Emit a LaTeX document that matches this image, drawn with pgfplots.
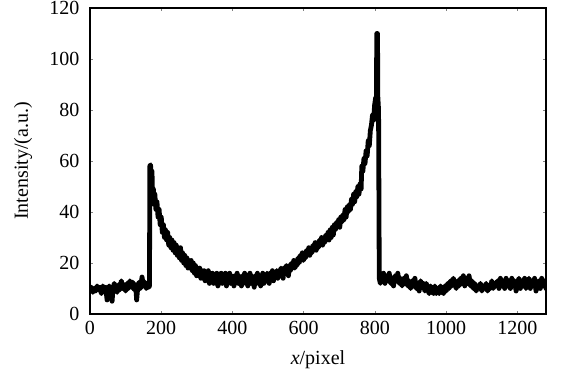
\documentclass[border=0pt]{standalone}
\usepackage{pgfplots}
\pgfplotsset{compat=1.18}
\usepackage{fontspec}
\setmainfont{Liberation Serif}
\pgfplotstableread{
x y
0 9.5
4 10.5
8 8.5
12 10
16 9
20 11
24 9.5
28 10.5
32 8
36 11
40 9.5
44 10.5
48 5.5
50 9
54 11
58 9.5
62 5
64 9
68 12
72 10
76 8.5
80 11.5
84 9.5
88 13
92 10
96 11.5
100 9
104 12
108 10
112 13
116 10.5
120 12.5
124 9.5
128 11.5
131 5.5
134 10.5
138 12.5
142 10
146 14.5
150 11
154 12.5
158 10
162 11.5
165 10.5
167 11
168 58
170 58.5
172 53
174 56
176 44
178 49
180 43
182 47
185 41
188 44
191 38
194 41
197 35
200 38
203 32
206 35
209 30
212 33
215 29
218 32
221 27
224 30
227 26
230 29
233 25
236 28
239 24
242 27
245 23
248 26
251 22
254 26
257 21
260 24
263 20
266 23
269 19
272 22
275 18
278 21
281 18
284 21
287 17
290 20
293 16
296 19
299 15
302 18
305 15
308 18
311 14
314 17
317 14
320 17
323 13
326 16
329 14
332 17
335 12
338 16
341 14
344 16
347 12
350 15
353 13
356 16
359 11
362 15
365 13
368 16
371 12
374 15
377 14
380 16
383 11
386 15
389 13
392 16
395 12
398 15
401 14
404 11
407 15
410 13
413 16
416 12
419 15
422 13
425 11
428 15
431 14
434 16
437 12
440 15
443 11
446 14
449 16
452 12
455 15
458 13
461 10.5
464 15
467 14
470 16
473 12
476 15
479 11
482 14
485 16
488 12
491 15
494 13
497 16
500 14
503 12
506 16
509 14
512 17
515 13
518 16
521 15
524 17
527 14
530 17
533 15
536 18
539 16
542 14
545 18
548 16
551 19
554 17
557 15
560 19
563 17
566 20
569 18
572 21
575 18
578 20
581 19
584 22
587 20
590 23
593 21
596 24
599 21
602 23
605 22
608 25
611 23
614 26
617 23
620 26
623 24
626 27
629 25
632 28
635 25
638 28
641 26
644 29
647 27
650 30
653 27
656 30
659 28
662 31
665 29
668 32
671 29
674 33
677 30
680 34
683 31
686 35
689 33
692 36
695 34
698 37
701 34
704 38
707 36
710 39
713 37
716 41
719 38
722 42
725 40
728 43
731 41
734 45
737 43
740 47
743 44
746 48
749 46
752 50
755 47
758 51
761 49
763 58
766 56
769 61
772 59
775 64
778 62
781 68
784 66
787 72
790 74
793 78
796 76
799 82
802 85
804 84
805 110
807 110
808 85
810 80
812 14
815 12
818 15
821 13
824 16
828 12
832 15
836 13
840 16
844 12
848 14
852 11
856 15
860 13
864 16
868 12
872 14
876 11
880 14
884 12
888 15
892 11
896 13
900 10
904 13
908 11
912 14
916 10
920 12
924 9
928 13
932 11
936 12
940 9
944 12
948 10
952 8
956 11
960 9
964 8
968 11
972 8
976 10
980 8
984 11
988 9
992 8
996 11
1000 9
1004 12
1008 10
1012 13
1016 11
1020 14
1024 12
1028 10
1032 13
1036 11
1040 14
1044 12
1048 15
1052 11
1056 14
1060 12
1064 15
1068 11
1072 13
1076 10
1080 12
1084 9
1088 11
1092 10
1096 12
1100 9
1104 11
1108 10
1112 12
1116 9
1120 11
1124 10
1128 13
1132 10
1136 12
1140 11
1144 13
1148 10
1152 14
1156 11
1160 13
1164 10
1168 14
1172 11
1176 13
1180 10
1184 14
1188 11
1192 13
1196 9
1200 12
1204 14
1208 10
1212 13
1216 11
1220 14
1224 10
1228 12
1232 14
1236 10
1240 13
1244 11
1248 14
1252 9
1256 12
1260 13
1264 10
1268 14
1272 11
1276 13
1280 10
}\datatable
\begin{document}
\begin{tikzpicture}
\begin{axis}[
  scale only axis,
  width=342pt, height=229.5pt,
  xmin=0, xmax=1280, ymin=0, ymax=120,
  xtick={0,200,...,1200},
  ytick={0,20,...,120},
  tick align=inside,
  major tick length=2.5pt,
  tick style={gray, line width=0.6pt},
  axis line style={black, line width=2.2pt},
  font=\fontsize{15}{18}\selectfont,
  /pgf/number format/assume math mode=true,
  /pgf/number format/1000 sep={},
  xticklabel style={yshift=-2pt},
  yticklabel style={xshift=-4.5pt},
  xlabel={\textit{x}/pixel},
  ylabel={Intensity/(a.u.)},
  xlabel style={at={(axis description cs:0.5,-0.150)}, anchor=center},
  ylabel style={at={(axis description cs:-0.1469,0.5)}, anchor=center},
]
\addplot[black, line width=3.6pt, line join=round, line cap=round] table[x=x,y=y] {\datatable};
\end{axis}
\pgfresetboundingbox
\path[use as bounding box] (-67.5pt,-50.25pt) rectangle (354pt,235.5pt);
\end{tikzpicture}
\end{document}
